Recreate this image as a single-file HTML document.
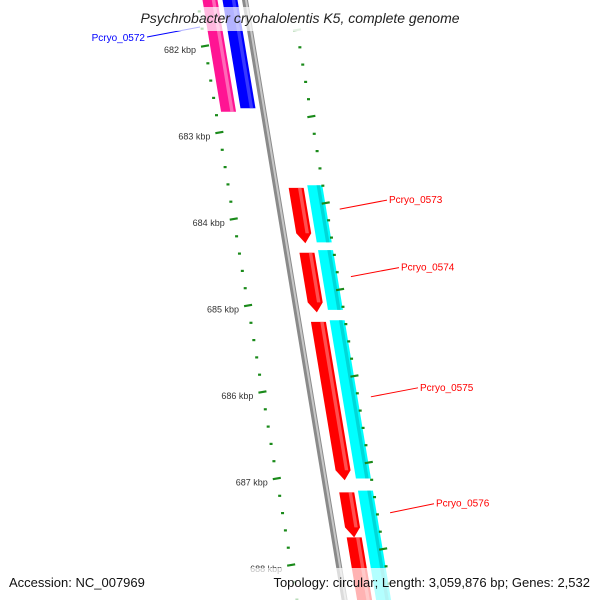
<!DOCTYPE html>
<html><head><meta charset="utf-8"><style>
html,body{margin:0;padding:0;background:#fff;width:600px;height:600px;overflow:hidden}
svg{display:block;font-family:"Liberation Sans",sans-serif}
</style></head><body>
<svg id="map" width="600" height="600" viewBox="0 0 600 600" xmlns="http://www.w3.org/2000/svg" overflow="hidden">
<g id="feat"></g>
<g id="ticks"></g>
<g id="labels"></g>
<rect x="0" y="7" width="600" height="24" fill="#fff" opacity="0.7"/>
<text x="300" y="23" text-anchor="middle" font-size="14" font-style="italic" fill="#222">Psychrobacter cryohalolentis K5, complete genome</text>
<rect x="0" y="568" width="600" height="32" fill="#fff" opacity="0.7"/>
<text x="9" y="587" font-size="13" fill="#111">Accession: NC_007969</text>
<text x="590" y="587" font-size="13" text-anchor="end" fill="#111">Topology: circular; Length: 3,059,876 bp; Genes: 2,532</text>
</svg>
<script>
const geneNames=["pink-gene","blue-gene","Pcryo_0573","Pcryo_0574","Pcryo_0575","Pcryo_0576","next-gene"];
const pinkStart=[681.3], pinkEnd=[682.76];
const blueStart=[681.3], blueEnd=[682.72];
const redStart=[683.64,684.39,685.19,687.16,687.68];
const redEnd=[684.28,685.08,687.02,687.68,688.7];
const cyanStart=[683.61,684.36,685.17,687.14];
const cyanEnd=[684.27,685.05,687.0,688.7];
const labelText=["Pcryo_0573","Pcryo_0574","Pcryo_0575","Pcryo_0576"];
const labelPos=[683.77,684.55,685.94,687.28];
const labelX=[389,401,420,436];
const tickLabels=["682 kbp","683 kbp","684 kbp","685 kbp","686 kbp","687 kbp","688 kbp"];
const tickKbp=[682,683,684,685,686,687,688];

const NS="http://www.w3.org/2000/svg";
const Y=k=>46+86.5*(k-682);
const SL=0.166;
const XB=y=>245+SL*y;
function el(tag,attrs,parent){const e=document.createElementNS(NS,tag);for(const k in attrs)e.setAttribute(k,attrs[k]);parent.appendChild(e);return e;}
const feat=document.getElementById('feat'),ticks=document.getElementById('ticks'),labels=document.getElementById('labels');

const bb=el('polygon',{points:`${XB(-5)-3},-5 ${XB(-5)+3},-5 ${XB(605)+3},605 ${XB(605)-3},605`,fill:'#8a8a8a'},feat);


el('polygon',{points:`${XB(-5)},-5 ${XB(-5)+2},-5 ${XB(605)+2},605 ${XB(605)},605`,fill:'#c8c8c8'},feat);

function block(y1,y2,o,w,col,light,arrow,name){
  const g=el('g',{},feat);
  
  
  const a=o-w/2,b=o+w/2,h=arrow?10:0,ye=y2-h;
  let pts=`${XB(y1)+a},${y1} ${XB(y1)+b},${y1} ${XB(ye)+b},${ye}`;
  if(arrow)pts+=` ${XB(y2)+o},${y2}`;
  pts+=` ${XB(ye)+a},${ye}`;
  el('polygon',{points:pts,fill:col},g);
  const s1=a+w*0.62,s2=a+w*0.85;
  el('polygon',{points:`${XB(y1)+s1},${y1} ${XB(y1)+s2},${y1} ${XB(ye)+s2},${ye} ${XB(ye)+s1},${ye}`,fill:light,opacity:0.7},g);
}
pinkStart.forEach((s,i)=>block(Y(s),Y(pinkEnd[i]),-35,15,'#ff1493','#ff8cc6',false,'gene-pink-'+i));
blueStart.forEach((s,i)=>block(Y(s),Y(blueEnd[i]),-15,15,'#0000ff','#5050ff',false,'gene-blue-'+i));
redStart.forEach((s,i)=>block(Y(s),Y(redEnd[i]),20,15,'#ff0000','#ff7070',true,'gene-red-'+i));
cyanStart.forEach((s,i)=>block(Y(s),Y(cyanEnd[i]),39,15,'#00ffff','#00c8c8',false,'gene-cyan-'+i));

for(let k=681.6;k<=688.81;k+=0.2){
  const kk=Math.round(k*10)/10,y=Y(kk),major=Math.abs(kk-Math.round(kk))<0.01;
  const xl=205+SL*(y-46);
  const t=el('line',{x1:xl-(major?4:1.5),y1:y+(major?0.7:0),x2:xl+(major?4:1.5),y2:y-(major?0.7:0),stroke:'#1a8a1a','stroke-width':2.2},ticks);
  
  
}
for(let i=0;i<36;i++){
  const y=30+17.3*i; if(y>600)break;
  const major=(i%5)==0, xr=297+SL*(y-30);
  const t=el('line',{x1:xr-(major?4:1.5),y1:y+(major?0.7:0),x2:xr+(major?4:1.5),y2:y-(major?0.7:0),stroke:'#1a8a1a','stroke-width':2.2,opacity:y<35?0.4:1},ticks);
  
  
}
tickKbp.forEach((k,i)=>{
  const y=Y(k),xl=205+SL*(y-46);
  const t=el('text',{x:xl-9,y:y+7,'font-size':9,'text-anchor':'end',fill:'#333'},ticks);
  t.textContent=tickLabels[i];
  
  
});

labelText.forEach((txt,i)=>{
  const y=Y(labelPos[i]),x0=XB(y+10)+60;
  const l=el('line',{x1:x0,y1:y+10,x2:labelX[i]-2,y2:y+1,stroke:'#ff0000','stroke-width':1},labels);
  
  
  const t=el('text',{x:labelX[i],y:y+4,'font-size':10,fill:'#ff0000'},labels);
  t.textContent=txt;
  
  
});
const bl=el('line',{x1:147,y1:37,x2:200,y2:27,stroke:'#0000ff','stroke-width':1},labels);


const bt=el('text',{x:145,y:41,'font-size':10,fill:'#0000ff','text-anchor':'end'},labels);
bt.textContent='Pcryo_0572';


</script>
</body></html>
